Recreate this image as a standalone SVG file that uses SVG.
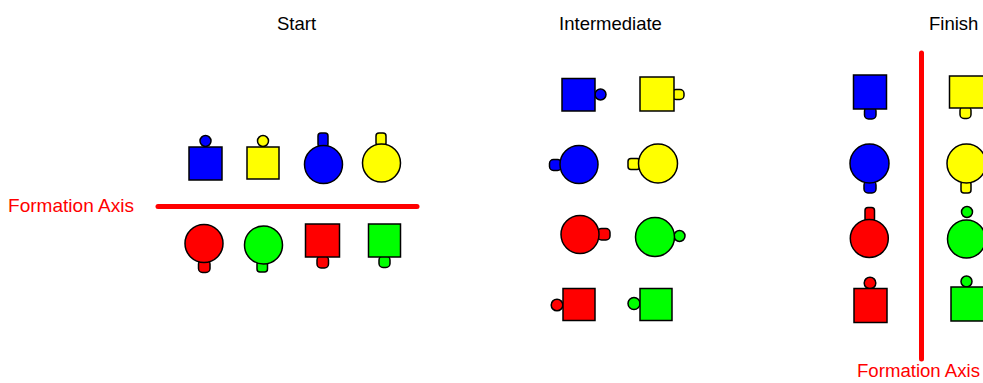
<svg xmlns="http://www.w3.org/2000/svg" width="983" height="383" viewBox="0 0 983 383">
<style>
.s{stroke:#000;stroke-width:1.5}
.b{fill:#0000ff}
.y{fill:#ffff00}
.r{fill:#ff0000}
.g{fill:#00ff00}
.t{font-family:"Liberation Sans",Arial,sans-serif;font-size:18.5px;fill:#000}
.ax{font-family:"Liberation Sans",Arial,sans-serif;font-size:19px;fill:#ff0000}
.axis{stroke:#ff0000;stroke-width:5;stroke-linecap:round;fill:none}
</style>
<rect width="983" height="383" fill="#fff"/>
<g id="titles">
<text class="t" x="296.5" y="30" text-anchor="middle">Start</text>
<text class="t" x="610.5" y="30" text-anchor="middle">Intermediate</text>
<text class="t" x="929" y="30">Finish</text>
</g>
<g id="axes">
<line class="axis" x1="158" y1="206.5" x2="417" y2="206.5"/>
<line class="axis" x1="921.5" y1="53" x2="921.5" y2="359"/>
<text class="ax" x="8" y="212" textLength="126" lengthAdjust="spacingAndGlyphs">Formation Axis</text>
<text class="ax" x="857" y="377" style="font-size:18px" textLength="123" lengthAdjust="spacingAndGlyphs">Formation Axis</text>
</g>
<g id="start">
<g id="s1"><circle class="s b" cx="205.5" cy="141" r="5.5"/><rect class="s b" x="189" y="147" width="33" height="33"/></g>
<g id="s2"><circle class="s y" cx="263" cy="141" r="5.5"/><rect class="s y" x="247" y="147" width="32" height="32"/></g>
<g id="s3"><rect class="s b" x="318" y="133" width="10" height="14" rx="3"/><circle class="s b" cx="323.5" cy="164.5" r="19"/></g>
<g id="s4"><rect class="s y" x="376" y="133" width="10" height="13" rx="3"/><circle class="s y" cx="381.5" cy="163" r="19"/></g>
<g id="s5"><rect class="s r" x="198.5" y="260" width="11.5" height="12.5" rx="4"/><circle class="s r" cx="204" cy="243.5" r="19"/></g>
<g id="s6"><rect class="s g" x="257" y="261" width="10.5" height="11" rx="3"/><circle class="s g" cx="263.5" cy="245" r="19"/></g>
<g id="s7"><rect class="s r" x="317" y="256" width="11.5" height="12" rx="4"/><rect class="s r" x="305.5" y="224" width="34" height="33"/></g>
<g id="s8"><rect class="s g" x="379" y="256" width="11" height="11.5" rx="4"/><rect class="s g" x="368.5" y="224" width="32" height="33"/></g>
</g>
<g id="intermediate">
<g id="i1"><circle class="s b" cx="600.5" cy="94.5" r="5.5"/><rect class="s b" x="562" y="78.5" width="33" height="32.5"/></g>
<g id="i2"><rect class="s y" x="672" y="89.5" width="12" height="10" rx="4"/><rect class="s y" x="640" y="77" width="34" height="34"/></g>
<g id="i3"><rect class="s b" x="549.5" y="159.5" width="12" height="11" rx="4"/><circle class="s b" cx="579" cy="164.5" r="19"/></g>
<g id="i4"><rect class="s y" x="628" y="158.5" width="12" height="11" rx="3"/><circle class="s y" cx="658" cy="163.5" r="19.5"/></g>
<g id="i5"><rect class="s r" x="597.5" y="228.5" width="12.5" height="11.5" rx="4"/><circle class="s r" cx="580" cy="234.5" r="19"/></g>
<g id="i6"><circle class="s g" cx="679.5" cy="236" r="5.5"/><circle class="s g" cx="655" cy="237" r="19.5"/></g>
<g id="i7"><circle class="s r" cx="557" cy="305" r="5.8"/><rect class="s r" x="563" y="288.5" width="32" height="32"/></g>
<g id="i8"><circle class="s g" cx="634" cy="303.5" r="6"/><rect class="s g" x="640" y="288.5" width="32" height="32"/></g>
</g>
<g id="finish">
<g id="f1"><rect class="s b" x="864.5" y="107" width="11.5" height="12" rx="4"/><rect class="s b" x="853.5" y="75" width="33" height="34"/></g>
<g id="f2"><rect class="s y" x="960" y="106.5" width="11" height="12" rx="4"/><rect class="s y" x="949.5" y="76" width="36" height="32"/></g>
<g id="f3"><rect class="s b" x="864" y="181" width="12" height="12" rx="4"/><circle class="s b" cx="869.5" cy="163.5" r="19.5"/></g>
<g id="f4"><rect class="s y" x="961" y="181" width="10" height="12" rx="3"/><circle class="s y" cx="966.5" cy="163.5" r="19.5"/></g>
<g id="f5"><rect class="s r" x="865" y="207.5" width="9.5" height="14" rx="3"/><circle class="s r" cx="869.3" cy="238.5" r="19"/></g>
<g id="f6"><circle class="s g" cx="967" cy="212" r="5.5"/><circle class="s g" cx="966.5" cy="239" r="19"/></g>
<g id="f7"><circle class="s r" cx="870" cy="283" r="5.8"/><rect class="s r" x="854" y="288.5" width="33" height="34"/></g>
<g id="f8"><circle class="s g" cx="966.5" cy="281.5" r="5.5"/><rect class="s g" x="951" y="287" width="34" height="34"/></g>
</g>
</svg>
